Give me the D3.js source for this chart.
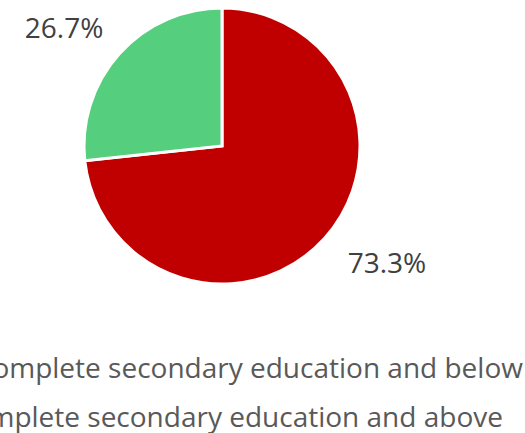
<!DOCTYPE html>
<html>
<head>
<meta charset="utf-8">
<script src="https://cdn.jsdelivr.net/npm/d3@7"></script>
<style>
  html, body { margin: 0; padding: 0; background: #fff; overflow: hidden; }
  svg { display: block; }
</style>
</head>
<body>
<svg id="chart" width="525" height="433"></svg>
<script>
const categories = ["Incomplete secondary education and below", "Complete secondary education and above"];
const values = [73.3, 26.7];
const valueLabels = ["73.3%", "26.7%"];
const colors = ["#C00000", "#55CF7D"];

const svg = d3.select("#chart");
const cx = 222, cy = 146, r = 138;

const pie = d3.pie().sort(null).value(d => d.value);
const data = categories.map((c, i) => ({ name: c, value: values[i], label: valueLabels[i], color: colors[i] }));
const arcs = pie(data);
const arc = d3.arc().innerRadius(0).outerRadius(r);
const labelArc = d3.arc().innerRadius(r + 38).outerRadius(r + 38);

const g = svg.append("g").attr("transform", `translate(${cx},${cy})`);
g.selectAll("path.slice")
  .data(arcs)
  .join("path")
  .attr("class", "slice")
  .attr("d", arc)
  .attr("fill", d => d.data.color)
  .attr("stroke", "#fff")
  .attr("stroke-width", 3)
  .attr("stroke-linejoin", "miter");

g.selectAll("text.lbl")
  .data(arcs)
  .join("text")
  .attr("class", "lbl")
  .attr("x", d => { const p = labelArc.centroid(d); return p[0] + (p[0] > 0 ? 34 : -27); })
  .attr("y", d => labelArc.centroid(d)[1])
  .attr("text-anchor", "middle")
  .attr("dy", "0.35em")
  .attr("font-family", "'Open Sans', sans-serif")
  .attr("font-size", 28)
  .attr("fill", "#404040")
  .text(d => d.data.label);

// Legend (extends beyond the left edge, as in the reference)
const legend = svg.append("g").attr("transform", "translate(-46,0)");
const legendY = [378, 427];
legend.selectAll("rect")
  .data(data)
  .join("rect")
  .attr("x", -30)
  .attr("y", (d, i) => legendY[i] - 16)
  .attr("width", 16)
  .attr("height", 16)
  .attr("fill", d => d.color);
legend.selectAll("text")
  .data(data)
  .join("text")
  .attr("x", 0)
  .attr("y", (d, i) => legendY[i])
  .attr("font-family", "'Open Sans', sans-serif")
  .attr("font-size", 28)
  .attr("fill", "#595959")
  .text(d => d.name);
</script>
</body>
</html>
